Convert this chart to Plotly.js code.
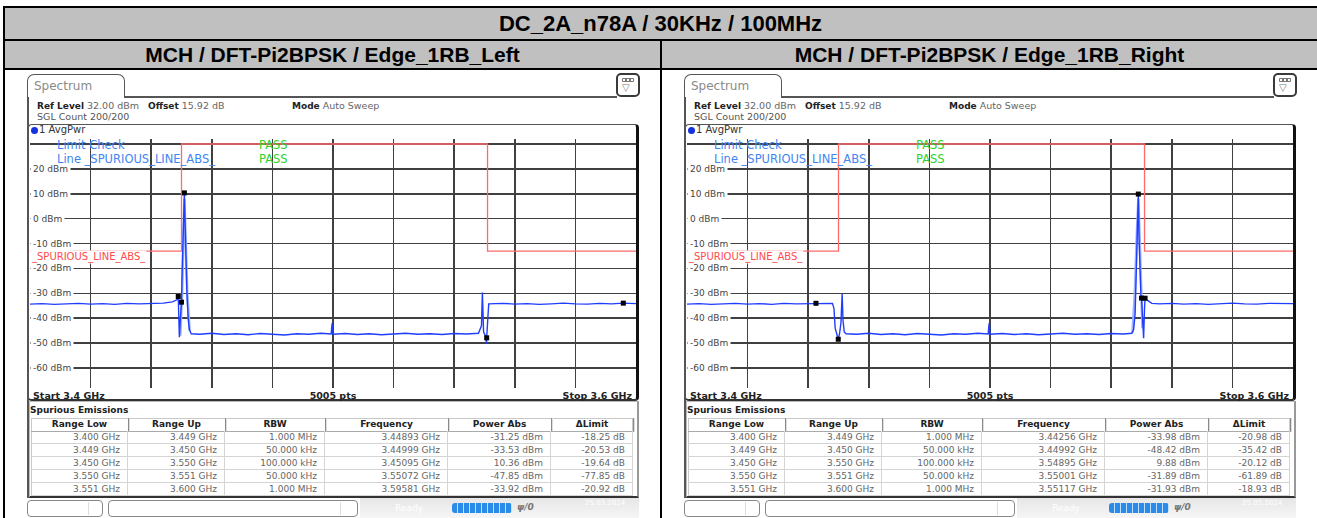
<!DOCTYPE html>
<html><head><meta charset="utf-8">
<script src="https://cdn.plot.ly/plotly-3.0.1.min.js"></script>
<style>
body{margin:0;width:1317px;height:518px;overflow:hidden;background:#fff;position:relative;font-family:'DejaVu Sans',sans-serif;}
.a{position:absolute;box-sizing:border-box;}
.t{position:absolute;white-space:nowrap;font-size:9px;line-height:11px;font-family:'DejaVu Sans',sans-serif;}
.hdr{position:absolute;font-family:'Liberation Sans',Arial,sans-serif;font-weight:bold;color:#000;text-align:center;white-space:nowrap;}
</style></head><body>
<script>
// ---------- data ----------
const mainTitle = "DC_2A_n78A / 30KHz / 100MHz";
const panelTitles = ["MCH / DFT-Pi2BPSK / Edge_1RB_Left", "MCH / DFT-Pi2BPSK / Edge_1RB_Right"];

const limitFreq  = [3.400, 3.450, 3.450, 3.551, 3.551, 3.600];
const limitLevel = [-13, -13, 30, 30, -13, -13];

const yTickVals = [20, 10, 0, -10, -20, -30, -40, -50, -60];
const yTickText = ["20 dBm","10 dBm","0 dBm","-10 dBm","-20 dBm","-30 dBm","-40 dBm","-50 dBm","-60 dBm"];

const leftFreq = [3.400,3.404,3.408,3.412,3.416,3.420,3.424,3.428,3.432,3.436,3.440,3.444,3.447,3.4485,3.44893,3.4491,3.4493,3.4496,3.44999,3.4502,3.4505,3.4507,3.45095,3.4511,3.4514,3.4518,3.4522,3.4526,3.4532,3.456,3.460,3.464,3.468,3.472,3.476,3.480,3.484,3.488,3.492,3.496,3.4994,3.4997,3.5000,3.504,3.508,3.512,3.516,3.520,3.524,3.528,3.532,3.536,3.540,3.544,3.5480,3.5490,3.5493,3.5497,3.5503,3.5507,3.55072,3.5511,3.5514,3.556,3.560,3.564,3.568,3.572,3.576,3.580,3.584,3.588,3.592,3.59581,3.600];
const leftPwr = [-34.3,-34.1,-34.4,-34.2,-34.0,-34.3,-34.1,-34.4,-34.0,-34.2,-34.1,-33.9,-33.4,-32.6,-31.25,-40.0,-47.6,-41.0,-33.53,-22,-4,4,10.36,2,-16,-30,-40,-44.5,-46.2,-46.4,-46.0,-46.5,-46.2,-46.6,-46.1,-46.3,-46.7,-46.2,-46.4,-46.0,-46.3,-42.0,-46.4,-46.1,-46.5,-46.2,-46.6,-46.3,-46.0,-46.4,-46.2,-46.5,-46.1,-46.3,-46.0,-43,-29.7,-45.5,-47,-50.2,-47.85,-40,-34.2,-34.0,-34.3,-34.1,-34.4,-34.2,-33.9,-34.2,-34.3,-34.0,-34.2,-33.92,-34.1];
const leftEnvFreq = [3.4496,3.4502,3.4507,3.45095,3.4513,3.4519,3.4527];
const leftEnvPwr  = [-47,-30,-5,8,-5,-30,-45];

const rightFreq = [3.400,3.404,3.408,3.412,3.416,3.420,3.424,3.428,3.432,3.436,3.440,3.44256,3.445,3.4480,3.4485,3.4489,3.44992,3.4503,3.4508,3.4512,3.4515,3.4519,3.4525,3.456,3.460,3.464,3.468,3.472,3.476,3.480,3.484,3.488,3.492,3.496,3.4994,3.4997,3.5000,3.504,3.508,3.512,3.516,3.520,3.524,3.528,3.532,3.536,3.540,3.544,3.5468,3.5474,3.5479,3.5483,3.5486,3.54895,3.5492,3.5495,3.5498,3.55001,3.5504,3.5507,3.5510,3.55117,3.5520,3.5534,3.556,3.560,3.564,3.568,3.572,3.576,3.580,3.584,3.588,3.592,3.596,3.600];
const rightPwr = [-34.3,-34.1,-34.4,-34.2,-34.0,-34.3,-34.1,-34.4,-34.0,-34.2,-34.1,-33.98,-34.2,-34.0,-36,-44,-48.42,-46.5,-42,-30.3,-41,-45.5,-46.2,-46.4,-46.0,-46.5,-46.2,-46.6,-46.1,-46.3,-46.7,-46.2,-46.4,-46.0,-46.3,-42.0,-46.4,-46.1,-46.5,-46.2,-46.6,-46.3,-46.0,-46.4,-46.2,-46.5,-46.1,-46.3,-46.0,-44.5,-38,-20,-2,9.88,-8,-22,-30.5,-31.89,-40,-48,-36,-31.93,-32.8,-34.0,-34.2,-34.0,-34.3,-34.1,-34.4,-34.2,-33.9,-34.2,-34.3,-34.0,-34.2,-34.1];
const rightEnvFreq = [3.5470,3.5478,3.5484,3.54895,3.5494,3.5499,3.5503];
const rightEnvPwr  = [-46,-30,-8,8,-8,-30,-44];

const tableHead = ["Range Low","Range Up","RBW","Frequency","Power Abs","\u0394Limit"];
const rangeLow = ["3.400 GHz","3.449 GHz","3.450 GHz","3.550 GHz","3.551 GHz"];
const rangeUp  = ["3.449 GHz","3.450 GHz","3.550 GHz","3.551 GHz","3.600 GHz"];
const rbw      = ["1.000 MHz","50.000 kHz","100.000 kHz","50.000 kHz","1.000 MHz"];
const leftMarkFreq  = [3.44893,3.44999,3.45095,3.55072,3.59581];
const leftMarkPwr   = [-31.25,-33.53,10.36,-47.85,-33.92];
const leftDelta     = [-18.25,-20.53,-19.64,-77.85,-20.92];
const rightMarkFreq = [3.44256,3.44992,3.54895,3.55001,3.55117];
const rightMarkPwr  = [-33.98,-48.42,9.88,-31.89,-31.93];
const rightDelta    = [-20.98,-35.42,-20.12,-61.89,-18.93];

// ---------- helpers ----------
function box(css, html, cls){
  const d=document.createElement('div');
  d.className = cls || 'a';
  Object.assign(d.style, css);
  if(html!==undefined) d.innerHTML = html;
  document.body.appendChild(d);
  return d;
}
function px(v){return v+'px';}

// ---------- outer table ----------
box({left:'4px',top:'7px',width:'1313px',height:'62px',background:'#c0c0c0'});
box({left:'3px',top:'6px',width:'1314px',height:'2px',background:'#000'});
box({left:'3px',top:'39px',width:'1314px',height:'2px',background:'#000'});
box({left:'3px',top:'68px',width:'1314px',height:'2px',background:'#000'});
box({left:'3px',top:'6px',width:'2px',height:'512px',background:'#000'});
box({left:'660px',top:'40px',width:'2px',height:'478px',background:'#000'});
box({left:'4px',top:'8px',width:'1313px',height:'31px',lineHeight:'31px',fontSize:'22px'}, mainTitle, 'hdr');
box({left:'5px',top:'41px',width:'655px',height:'27px',lineHeight:'28px',fontSize:'21px'}, panelTitles[0], 'hdr');
box({left:'662px',top:'41px',width:'655px',height:'27px',lineHeight:'28px',fontSize:'21px'}, panelTitles[1], 'hdr');

// ---------- panel ----------
function panel(ox, idx, freq, pwr, envF, envP, mF, mP, dL){
  // tab
  box({left:px(27+ox),top:'74px',width:'98px',height:'24px',border:'1.5px solid #555',borderBottom:'none',borderRadius:'7px 7px 0 0',background:'#fff'});
  box({left:px(34+ox),top:'79px',fontSize:'12px',lineHeight:'14px',color:'#8a8a8a'}, 'Spectrum', 't');
  box({left:px(124+ox),top:'96px',width:px(493),height:'1.5px',background:'#555'});
  box({left:px(27+ox),top:'97px',width:'1.5px',height:'401px',background:'#555'});
  // icon
  const ic = box({left:px(616+ox),top:'73px',width:'24px',height:'24px',border:'2px solid #3a3a3a',borderRadius:'5px',background:'#fff'});
  ic.innerHTML = '<div style="position:absolute;left:4px;top:3px;width:12px;height:4px;background:#777;border-radius:1px"></div>'+
    '<div style="position:absolute;left:5px;top:4px;width:2px;height:2px;background:#fff"></div>'+
    '<div style="position:absolute;left:9px;top:4px;width:2px;height:2px;background:#fff"></div>'+
    '<div style="position:absolute;left:13px;top:4px;width:2px;height:2px;background:#fff"></div>'+
    '<div style="position:absolute;left:4px;top:8px;font-size:10px;line-height:10px;color:#777;font-family:DejaVu Sans">\u25BD</div>';
  // info lines
  const inf = {top:'100px',color:'#222',fontSize:'9.5px'};
  box(Object.assign({left:px(37+ox)},inf), '<b style="font-size:9px">Ref Level</b> <span style="color:#666">32.00 dBm</span>', 't');
  box(Object.assign({left:px(148+ox)},inf), '<b style="font-size:9px">Offset</b> <span style="color:#666">15.92 dB</span>', 't');
  box(Object.assign({left:px(292+ox)},inf), '<b style="font-size:9px">Mode</b> <span style="color:#666">Auto Sweep</span>', 't');
  box({left:px(37+ox),top:'111px',color:'#555',fontSize:'9.5px'}, 'SGL Count 200/200', 't');
  // graph frame
  box({left:px(28+ox),top:'124px',width:'611px',height:'277px',border:'1px solid #555',borderRight:'3px solid #111',borderBottom:'2px solid #333',borderRadius:'4px',background:'#fff'});
  box({left:px(31+ox),top:'127px',width:'7px',height:'7px',borderRadius:'50%',background:'#1530e0'});
  box({left:px(39+ox),top:'124px',color:'#333',fontSize:'10px',lineHeight:'12px'}, '1 AvgPwr', 't');
  // bottom labels
  const bl = {top:'390px',color:'#222',fontWeight:'bold',fontSize:'9.5px',lineHeight:'12px'};
  box(Object.assign({left:px(33+ox)},bl), 'Start 3.4 GHz', 't');
  box(Object.assign({left:px(333+ox),transform:'translateX(-50%)'},bl), '5005 pts', 't');
  box(Object.assign({left:px(512+ox),width:'120px',textAlign:'right'},bl), 'Stop 3.6 GHz', 't');
  // spurious box
  box({left:px(29+ox),top:'401px',width:'610px',height:'97px',border:'1px solid #bbb',borderBottom:'2px solid #333',borderRight:'2px solid #999',background:'#fff'});
  box({left:px(30+ox),top:'405px',color:'#222',fontWeight:'bold'}, 'Spurious Emissions', 't');
  const cols=[31,128,225,325,448,551,633];
  const rows=[rangeLow, rangeUp, rbw,
    mF.map(v=>v.toFixed(5)+' GHz'),
    mP.map(v=>v.toFixed(2)+' dBm'),
    dL.map(v=>v.toFixed(2)+' dB')];
  box({left:px(cols[0]+ox),top:'418px',width:px(cols[6]-cols[0]),height:'78px',border:'1px solid #c8c8c8',background:'#fff'});
  for(let c=0;c<6;c++){
    box({left:px(cols[c]+ox),top:'418px',width:px(cols[c+1]-cols[c]),height:'13px',lineHeight:'13px',textAlign:'center',color:'#222',fontWeight:'bold',borderRight:'1px solid #8a8a8a',borderBottom:'1px solid #aaa',boxShadow:'1px 0 0 #ddd'}, tableHead[c], 't');
    for(let r=0;r<5;r++){
      box({left:px(cols[c]+ox),top:px(431+13*r),width:px(cols[c+1]-cols[c]),height:'13px',lineHeight:'13px',textAlign:'right',color:'#666',paddingRight:'7px',boxSizing:'border-box',borderRight:'1px solid #d4d4d4',borderBottom:'1px solid #d4d4d4'}, rows[c][r], 't');
    }
  }
  // status bar
  box({left:px(360+ox),top:'498px',width:'279px',height:'20px',background:'linear-gradient(180deg,#e6e6e6,#f6f6f6)'});
  box({left:px(27+ox),top:'500px',width:'76px',height:'17px',border:'1px solid #888',borderRadius:'4px',background:'#fff'});
  box({left:px(88+ox),top:'502px',width:'1px',height:'13px',background:'#ddd'});
  box({left:px(108+ox),top:'500px',width:'250px',height:'17px',border:'1px solid #888',borderRadius:'4px',background:'#fff'});
  box({left:px(340+ox),top:'502px',width:'1px',height:'13px',background:'#ddd'});
  box({left:px(395+ox),top:'503px',color:'#fff'}, 'Ready', 't');
  box({left:px(452+ox),top:'503px',width:'60px',height:'10px',borderRadius:'3px',background:'repeating-linear-gradient(90deg,#2a8ce8 0px,#2a8ce8 5px,#bfe0ff 5px,#bfe0ff 6px)'});
  box({left:px(517+ox),top:'502px',color:'#777',fontStyle:'italic',fontWeight:'bold'}, '\u03C8/0', 't');
  box({left:px(585+ox),top:'498px',color:'#fff',fontSize:'7px'}, '25.03.2024', 't');

  // plot
  const div = box({left:px(30+ox),top:'139px',width:'606px',height:'249px'});
  div.id='plot'+idx;
  const ff = (c,s)=>({family:'DejaVu Sans, sans-serif', size:s||9, color:c});
  const ann = yTickVals.map((v,i)=>({xref:'paper',x:0,xanchor:'left',yref:'y',y:v,yanchor:'middle',text:yTickText[i],showarrow:false,font:ff('#444'),bgcolor:'#fff',borderpad:2,xshift:0}));
  ann.push({xref:'paper',x:0,xanchor:'left',yref:'y',y:-15.5,yanchor:'middle',text:'_SPURIOUS_LINE_ABS_',showarrow:false,font:ff('#ff4a4a',10),bgcolor:'#fff',borderpad:0,xshift:0});
  ann.push({xref:'paper',x:0.041,xanchor:'left',yref:'paper',y:0.976,yanchor:'middle',text:'Limit Check',showarrow:false,font:ff('#3f86f0',11.5)});
  ann.push({xref:'paper',x:0.041,xanchor:'left',yref:'paper',y:0.92,yanchor:'middle',text:'Line _SPURIOUS_LINE_ABS_',showarrow:false,font:ff('#3f86f0',11.5)});
  ann.push({xref:'paper',x:0.375,xanchor:'left',yref:'paper',y:0.976,yanchor:'middle',text:'PASS',showarrow:false,font:ff('#2fd02f',11.5)});
  ann.push({xref:'paper',x:0.375,xanchor:'left',yref:'paper',y:0.92,yanchor:'middle',text:'PASS',showarrow:false,font:ff('#2fd02f',11.5)});
  const traces=[
    {x:limitFreq,y:limitLevel,mode:'lines',line:{color:'#ff6a6a',width:1.3},hoverinfo:'skip'},
    {x:envF,y:envP,mode:'lines',line:{color:'#9fb2ff',width:2.5},hoverinfo:'skip'},
    {x:freq,y:pwr,mode:'lines',line:{color:'#1f3dff',width:1.4}},
    {x:mF,y:mP,mode:'markers',marker:{symbol:'square',size:5,color:'#000'}}
  ];
  const layout={
    width:606,height:249,margin:{l:0,r:0,t:0,b:0},showlegend:false,
    paper_bgcolor:'#fff',plot_bgcolor:'#fff',
    xaxis:{range:[3.4,3.6],tickmode:'linear',tick0:3.4,dtick:0.02,showgrid:true,gridcolor:'#404040',gridwidth:1.6,zeroline:false,showticklabels:false,ticks:'',showline:true,mirror:true,linecolor:'#333',linewidth:1.5,fixedrange:true},
    yaxis:{range:[-68,32],tickmode:'linear',tick0:-60,dtick:10,showgrid:true,gridcolor:'#404040',gridwidth:1.6,zeroline:false,showticklabels:false,ticks:'',showline:true,mirror:true,linecolor:'#333',linewidth:1.5,fixedrange:true},
    annotations:ann
  };
  Plotly.newPlot(div,traces,layout,{staticPlot:true,displayModeBar:false});
}

panel(0, 0, leftFreq, leftPwr, leftEnvFreq, leftEnvPwr, leftMarkFreq, leftMarkPwr, leftDelta);
panel(657, 1, rightFreq, rightPwr, rightEnvFreq, rightEnvPwr, rightMarkFreq, rightMarkPwr, rightDelta);
</script>
</body></html>
